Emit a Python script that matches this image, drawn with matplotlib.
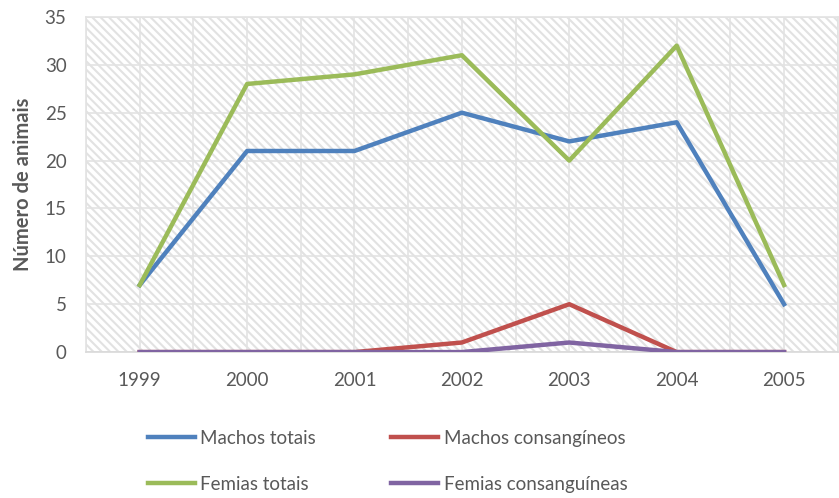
import matplotlib.pyplot as plt
from matplotlib.patches import Rectangle
import numpy as np

plt.rcParams['font.family'] = ['Lato', 'DejaVu Sans']
plt.rcParams['hatch.color'] = '#e2e2e2'
plt.rcParams['hatch.linewidth'] = 1.5

anos = ['1999', '2000', '2001', '2002', '2003', '2004', '2005']
machos_totais = [7, 21, 21, 25, 22, 24, 5]
machos_consang = [0, 0, 0, 1, 5, 0, 0]
femias_totais = [7, 28, 29, 31, 20, 32, 7]
femias_consang = [0, 0, 0, 0, 1, 0, 0]

fig = plt.figure(figsize=(8.39, 4.98), dpi=100)
ax = fig.add_axes([0.1025, 0.293, 0.896, 0.673])

x = np.arange(len(anos))
# fundo tracejado da area do grafico
ax.add_patch(Rectangle((0, 0), 1, 1, transform=ax.transAxes, facecolor='white',
                       hatch='\\\\\\\\', edgecolor='#e2e2e2', linewidth=0, zorder=0))

lw = 3.2
ax.plot(x, machos_totais, color='#4f81bd', lw=lw, label='Machos totais', zorder=3)
ax.plot(x, machos_consang, color='#c0504d', lw=lw, label='Machos consangíneos', zorder=3)
ax.plot(x, femias_totais, color='#9bbb59', lw=lw, label='Femias totais', zorder=3)
ax.plot(x, femias_consang, color='#8064a2', lw=lw, label='Femias consanguíneas', zorder=3)

ax.set_xlim(-0.5, len(anos) - 0.5)
ax.set_ylim(0, 35)
ax.set_xticks(x)
ax.set_xticklabels(anos)
ax.set_xticks(np.arange(-0.5, len(anos), 1.0), minor=True)
ax.set_yticks(range(0, 36, 5))
ax.grid(True, which='both', color='#e3e3e3', lw=1.2, zorder=1)
ax.set_axisbelow(True)
ax.tick_params(which='both', length=0)
ax.tick_params(axis='x', labelsize=13.5, colors='#595959', pad=14)
ax.tick_params(axis='y', labelsize=13.5, colors='#595959', pad=14)
for s in ax.spines.values():
    s.set_color('#e3e3e3')
    s.set_linewidth(1.2)
ax.spines['bottom'].set_color('#d9d9d9')

ax.set_ylabel('Número de animais', fontsize=14.5, fontweight='bold', color='#595959', labelpad=8)

h, l = ax.get_legend_handles_labels()
order = [0, 2, 1, 3]
fig.legend([h[i] for i in order], [l[i] for i in order], ncol=2, frameon=False,
           loc='center', bbox_to_anchor=(0.462, 0.074), fontsize=13.5, labelcolor='#595959',
           handlelength=2.5, handletextpad=0.3, columnspacing=4.0, labelspacing=1.55)

plt.savefig('out.png')
